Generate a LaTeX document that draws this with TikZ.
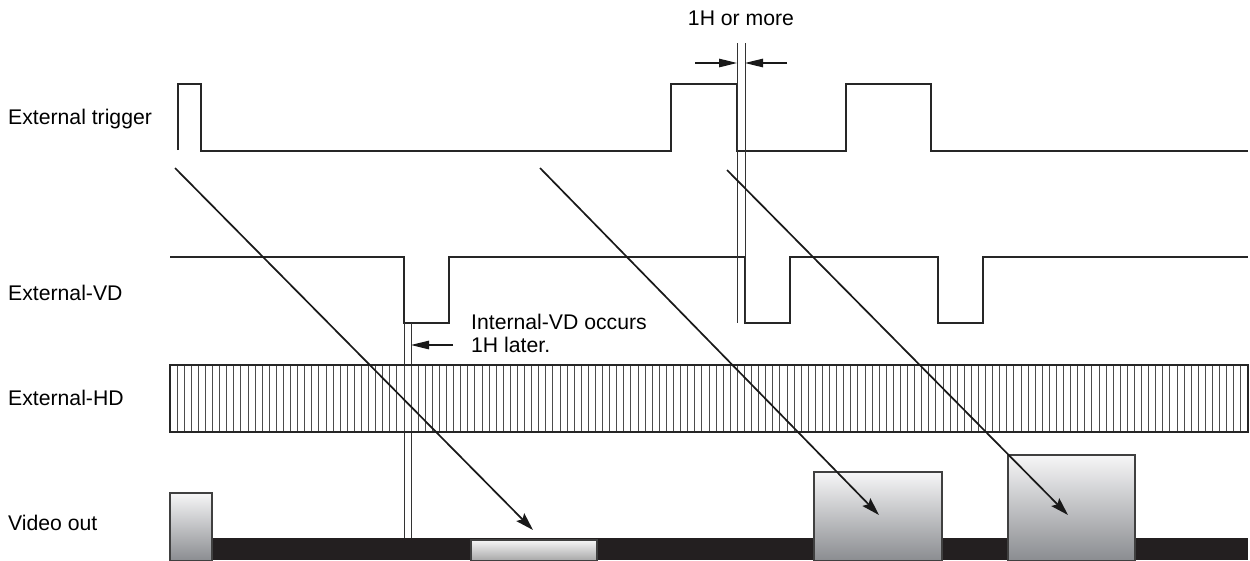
\documentclass[tikz,border=0pt]{standalone}
\usepackage{fontspec}
\setmainfont{Liberation Sans}
\usetikzlibrary{arrows.meta}
\definecolor{gtop}{RGB}{246,246,247}
\definecolor{gbot}{RGB}{138,140,144}
\definecolor{barc}{RGB}{35,31,32}
\begin{document}
\begin{tikzpicture}[x=1pt,y=-1pt,
  sig/.style={line width=2pt, line join=miter, draw=black!85},
  thinline/.style={line width=0.9pt, draw=black!80},
  hdline/.style={line width=1pt, draw=black!70},
  diagarr/.style={line width=1.7pt, draw=black!90, -{Stealth[length=18pt,width=11pt,inset=3pt]}},
  dimarr/.style={line width=1.2pt, draw=black!90, -{Triangle[length=18pt,width=8.5pt]}},
  lab/.style={anchor=base west, inner sep=0pt, font=\fontsize{21.2}{23}\selectfont},
  vbox/.style={draw=black!75, line width=1.5pt, top color=gtop, bottom color=gbot}]
\useasboundingbox (0,0) rectangle (1250,560);

% labels
\node[lab] (ltrig) at (8,124) {External trigger};
\node[lab] (lvd) at (8,300) {External-VD};
\node[lab] (lhd) at (8,405) {External-HD};
\node[lab] (lvid) at (8,530) {Video out};
\node[lab, anchor=base] (l1h) at (741,25) {1H or more};
\node[lab] (lint1) at (471,329) {Internal-VD occurs};
\node[lab] (lint2) at (471,352) {1H later.};

% External trigger
\draw[sig] (178,150) |- (201,84) |- (671,151) |- (737,84) |- (846,151) |- (931,84) |- (1248,151);

% External-VD
\draw[sig] (170,257) -| (404,323) -| (449,257) -| (745,323) -| (790,257) -| (938,323) -| (983,257) -- (1248,257);

% thin timing lines
\coordinate (t1a) at (737,43); \coordinate (t1b) at (737,323);
\coordinate (t2a) at (745,43); \coordinate (t2b) at (745,323);
\draw[thinline] (t1a) -- (t1b);
\draw[thinline] (t2a) -- (t2b);
\coordinate (t3a) at (404,323); \coordinate (t3b) at (404,545);
\coordinate (t4a) at (411,323); \coordinate (t4b) at (411,545);
\draw[thinline] (t3a) -- (t3b);
\draw[thinline] (t4a) -- (t4b);

% External-HD
\foreach \i in {1,...,151} \draw[hdline] ({170+\i*7.092},365) -- ++(0,67);
\draw[sig] (170,365) rectangle (1248,432);

% Video out
\fill[barc] (170,538) rectangle (1248,560);
\draw[vbox] (170,493) rectangle (212,561);
\draw[vbox, bottom color=gray!70] (471,540) rectangle (597,561);
\draw[vbox] (814,472) rectangle (942,561);
\draw[vbox] (1008,455) rectangle (1135,561);

% dimension arrows
\coordinate (d1) at (695,63); \coordinate (d1e) at (737,63);
\coordinate (d2) at (787,63); \coordinate (d2e) at (745,63);
\draw[dimarr] (d1) -- (d1e);
\draw[dimarr] (d2) -- (d2e);
\coordinate (d3) at (453,345); \coordinate (d3e) at (411,345);
\draw[dimarr] (d3) -- (d3e);

% diagonal arrows
\coordinate (a1) at (175,168); \coordinate (a1e) at (533,530);
\coordinate (a2) at (540,168); \coordinate (a2e) at (879,515);
\coordinate (a3) at (727,170); \coordinate (a3e) at (1068,515);
\draw[diagarr] (a1) -- (a1e);
\draw[diagarr] (a2) -- (a2e);
\draw[diagarr] (a3) -- (a3e);
\end{tikzpicture}
\end{document}
